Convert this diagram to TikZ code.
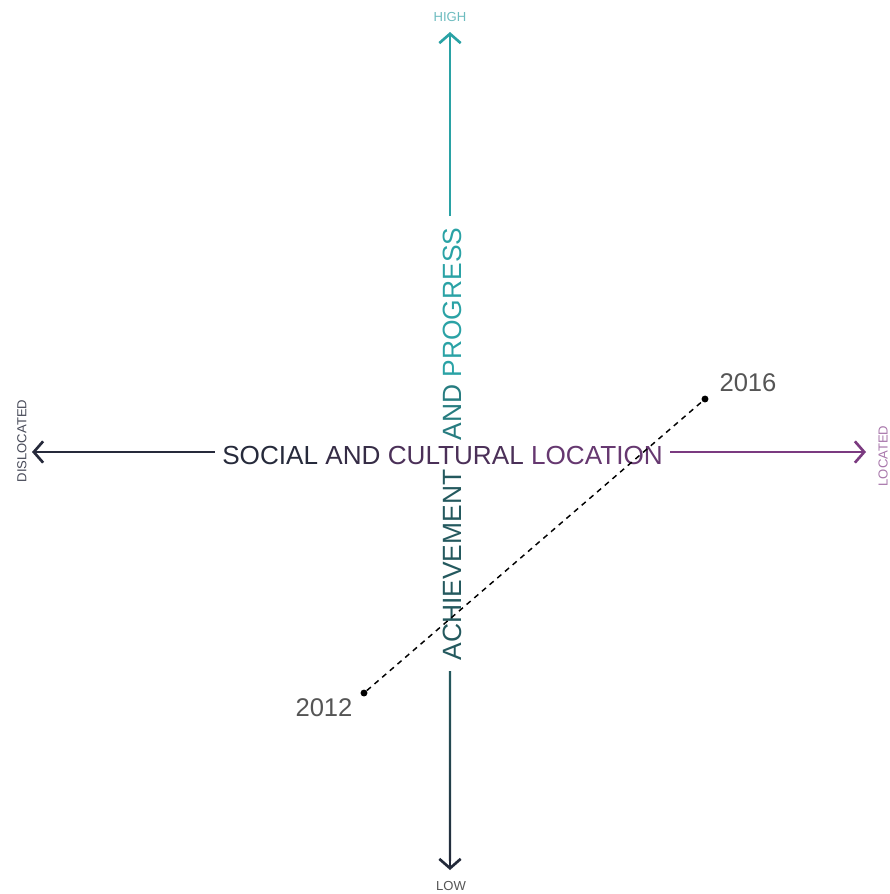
\documentclass[tikz,border=0pt]{standalone}
\usepackage{fontspec}
\setmainfont{Liberation Sans}
\usetikzlibrary{arrows.meta,calc}

\definecolor{HighTeal}{HTML}{2AA2A5}
\definecolor{MidTeal}{HTML}{277C80}
\definecolor{DeepTeal}{HTML}{24595E}
\definecolor{LowNavy}{HTML}{232A3A}
\definecolor{LeftNavy}{HTML}{262A3B}
\definecolor{PlumA}{HTML}{352C45}
\definecolor{PlumB}{HTML}{4B3058}
\definecolor{PlumC}{HTML}{663870}
\definecolor{RightPlum}{HTML}{7B3A80}
\definecolor{PaleTeal}{HTML}{6DBCBF}
\definecolor{PalePlum}{HTML}{A877AB}
\definecolor{YearGrey}{HTML}{555555}

\begin{document}
\begin{tikzpicture}
  [
    x=0.75pt, y=-0.75pt,
    AxisLine/.style={line width=2pt},
    AxisArrow/.style={AxisLine, -{Straight Barb[length=7pt, width=16pt]}},
    EndLabel/.style={inner sep=0pt, font=\fontsize{9.8}{10}\selectfont},
    YearDot/.style={circle, fill=black, inner sep=0pt, minimum size=5.2pt},
    YearLabel/.style={inner sep=0pt, text=YearGrey, font=\fontsize{19.2}{20}\selectfont},
  ]
  \useasboundingbox (0,0) rectangle (890,894);

  % ends of the axes
  \coordinate (high) at (450,32);
  \coordinate (low) at (450,870);
  \coordinate (dis) at (32,452);
  \coordinate (loc) at (866,452);

  \node [inner xsep=5.5pt, inner ysep=0pt, font=\fontsize{19.6}{20}\selectfont] (hlab) at (442.5,455)
    {\textcolor{LeftNavy}{SOCIAL} \textcolor{PlumA}{AND} \textcolor{PlumB}{CULTURAL} \textcolor{PlumC}{LOCATION}};
  \node [rotate=90, inner xsep=8.5pt, inner ysep=0pt, font=\fontsize{19.8}{21}\selectfont] (vlab) at (452,444)
    {\textcolor{DeepTeal}{ACHIEVEMENT}\hspace{22pt}\textcolor{MidTeal}{AND} \textcolor{HighTeal}{PROGRESS}};

  \node [EndLabel, text=PaleTeal] (hightxt) at (450,17) {HIGH};
  \node [EndLabel, text=YearGrey] (lowtxt) at (451,886) {LOW};
  \node [EndLabel, text=LeftNavy!85, rotate=90] (distxt) at (22,441) {DISLOCATED};
  \node [EndLabel, text=PalePlum, rotate=90] (loctxt) at (883,456) {LOCATED};

  \draw [AxisArrow, LeftNavy] (hlab.west |- dis) -- (dis);
  \draw [AxisArrow, RightPlum] (hlab.east |- loc) -- (loc);
  \draw [AxisArrow, HighTeal] (vlab.east -| high) -- (high);

  % lower half fades from teal to navy
  \shade [top color=DeepTeal, bottom color=LowNavy, middle color=DeepTeal!55!LowNavy]
    ($(vlab.west -| low)+(-1.15,0)$) rectangle ($(low)+(1.15,-10)$);
  \draw [AxisArrow, LowNavy] ($(low)+(0,-12)$) -- (low);

  \node [YearDot] (p16) at (705,399) {};
  \node [YearDot] (p12) at (364,693) {};
  \node [YearLabel] (y16) at (748,383) {2016};
  \node [YearLabel] (y12) at (324,708) {2012};
  \draw [line width=1.1pt, dash pattern=on 4pt off 3.6pt] (p12) -- (p16);
\end{tikzpicture}
\end{document}
